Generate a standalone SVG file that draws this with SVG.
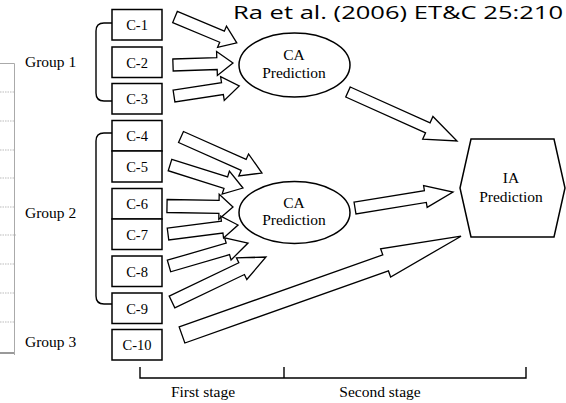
<svg xmlns="http://www.w3.org/2000/svg" width="566" height="403" viewBox="0 0 566 403">
<style>
.box{fill:#fff;stroke:#000;stroke-width:1.5}
.lbl{font-family:"Liberation Serif","Times New Roman",serif;font-size:14.5px;fill:#000;text-anchor:middle}
.pred{font-family:"Liberation Serif","Times New Roman",serif;font-size:15.5px;fill:#000;text-anchor:middle}
.grp{font-family:"Liberation Serif","Times New Roman",serif;font-size:15.5px;fill:#000}
.arr{fill:#fff;stroke:#000;stroke-width:1.3;stroke-linejoin:miter}
.brace{fill:none;stroke:#000;stroke-width:1.4}
.tbl{stroke:#aaa;stroke-width:1;fill:none}
.tdot{stroke:#bbb;stroke-width:1;stroke-dasharray:1.5 1}
</style>
<rect width="566" height="403" fill="#fff"/>
<text x="233" y="19" font-family="'Open Sans','Noto Sans',sans-serif" font-size="19" textLength="330" lengthAdjust="spacingAndGlyphs" fill="#000">Ra et al. (2006) ET&amp;C 25:210</text>
<g id="table-edge">
<path class="tbl" d="M0,63.5 H14.5 V355"/>
<line class="tdot" x1="0" y1="92" x2="14" y2="92"/>
<line class="tdot" x1="0" y1="121" x2="14" y2="121"/>
<line class="tdot" x1="0" y1="150" x2="14" y2="150"/>
<line class="tdot" x1="0" y1="178" x2="14" y2="178"/>
<line class="tdot" x1="0" y1="207" x2="14" y2="207"/>
<line class="tdot" x1="0" y1="235" x2="16" y2="235"/>
<line class="tdot" x1="0" y1="264" x2="14" y2="264"/>
<line class="tdot" x1="0" y1="293" x2="14" y2="293"/>
<line class="tdot" x1="0" y1="322" x2="14" y2="322"/>
<line x1="0" y1="353" x2="14" y2="353" stroke="#555" stroke-width="1.2"/>
</g>
<g id="groups">
<text class="grp" x="25" y="67">Group 1</text>
<text class="grp" x="25" y="218">Group 2</text>
<text class="grp" x="25" y="347">Group 3</text>
<path class="brace" d="M112,23 L104,23 Q96,23 96,31 L96,93 Q96,101 104,101 L112,101"/>
<path class="brace" d="M112,133 L104,133 Q96,133 96,141 L96,296 Q96,304 104,304 L112,304"/>
</g>
<g id="C-1"><rect class="box" x="112" y="9.5" width="50" height="30.5"/><text class="lbl" x="137" y="30">C-1</text></g>
<g id="C-2"><rect class="box" x="112" y="47" width="50" height="30.5"/><text class="lbl" x="137" y="67.5">C-2</text></g>
<g id="C-3"><rect class="box" x="112" y="83.5" width="50" height="30.5"/><text class="lbl" x="137" y="104">C-3</text></g>
<g id="C-4"><rect class="box" x="112" y="120.5" width="50" height="30.5"/><text class="lbl" x="137" y="141">C-4</text></g>
<g id="C-5"><rect class="box" x="112" y="151" width="50" height="31"/><text class="lbl" x="137" y="171.5">C-5</text></g>
<g id="C-6"><rect class="box" x="112" y="188.5" width="50" height="30.5"/><text class="lbl" x="137" y="209">C-6</text></g>
<g id="C-7"><rect class="box" x="112" y="219" width="50" height="30.5"/><text class="lbl" x="137" y="239.5">C-7</text></g>
<g id="C-8"><rect class="box" x="112" y="256" width="50" height="30.5"/><text class="lbl" x="137" y="276.5">C-8</text></g>
<g id="C-9"><rect class="box" x="112" y="293" width="50" height="30.5"/><text class="lbl" x="137" y="313.5">C-9</text></g>
<g id="C-10"><rect class="box" x="112" y="329.5" width="50" height="30.5"/><text class="lbl" x="137" y="350">C-10</text></g>
<g id="CA1"><ellipse class="box" cx="294.5" cy="65" rx="55.5" ry="32"/><text class="pred" x="294" y="60">CA</text><text class="pred" x="294" y="77.5">Prediction</text></g>
<g id="CA2"><ellipse class="box" cx="294.5" cy="212.5" rx="55.5" ry="31"/><text class="pred" x="294" y="207.5">CA</text><text class="pred" x="294" y="225">Prediction</text></g>
<g id="IA"><polygon class="box" points="471,139 554,139 565,188 554,237 471,237 460,188"/><text class="pred" x="511" y="183">IA</text><text class="pred" x="511" y="202">Prediction</text></g>
<g id="connectors">
<g transform="translate(175,17) rotate(22.75)"><polygon class="arr" points="0,-6 51,-6 51,-11.5 67,0 51,11.5 51,6 0,6"/></g>
<g transform="translate(173,65) rotate(-1.9)"><polygon class="arr" points="0,-6 44,-6 44,-12 60,0 44,12 44,6 0,6"/></g>
<g transform="translate(174,96) rotate(-8.7)"><polygon class="arr" points="0,-6 49,-6 49,-12 66,0 49,12 49,6 0,6"/></g>
<g transform="translate(181,137) rotate(24)"><polygon class="arr" points="0,-6 68.6,-6 68.6,-12 88.6,0 68.6,12 68.6,6 0,6"/></g>
<g transform="translate(170,165) rotate(17.5)"><polygon class="arr" points="0,-6 58.5,-6 58.5,-12 76.5,0 58.5,12 58.5,6 0,6"/></g>
<g transform="translate(167,206) rotate(0.9)"><polygon class="arr" points="0,-6.5 52,-6.5 52,-12.5 66,0 52,12.5 52,6.5 0,6.5"/></g>
<g transform="translate(168,234) rotate(-7.3)"><polygon class="arr" points="0,-6 54.6,-6 54.6,-11 70.6,0 54.6,11 54.6,6 0,6"/></g>
<g transform="translate(169,266) rotate(-16.2)"><polygon class="arr" points="0,-6 61.3,-6 61.3,-11.5 82.3,0 61.3,11.5 61.3,6 0,6"/></g>
<g transform="translate(172,302) rotate(-25.6)"><polygon class="arr" points="0,-6.5 77.2,-6.5 77.2,-12 104.2,0 77.2,12 77.2,6.5 0,6.5"/></g>
<g transform="translate(182,335) rotate(-19.5)"><polygon class="arr" points="0,-8.5 216,-8.5 216,-15 296,0 216,15 216,8.5 0,8.5"/></g>
<g transform="translate(348,92) rotate(24.2)"><polygon class="arr" points="0,-5.5 87.5,-5.5 87.5,-12.5 119.5,0 87.5,12.5 87.5,5.5 0,5.5"/></g>
<g transform="translate(355,208) rotate(-9.27)"><polygon class="arr" points="0,-6 71.3,-6 71.3,-11 99.3,0 71.3,11 71.3,6 0,6"/></g>
</g>
<g id="stages">
<path class="brace" d="M140,367 V378 H526 V367 M284,367 V378"/>
<text class="grp" x="203" y="397" text-anchor="middle">First stage</text>
<text class="grp" x="380" y="397" text-anchor="middle">Second stage</text>
</g>
</svg>
